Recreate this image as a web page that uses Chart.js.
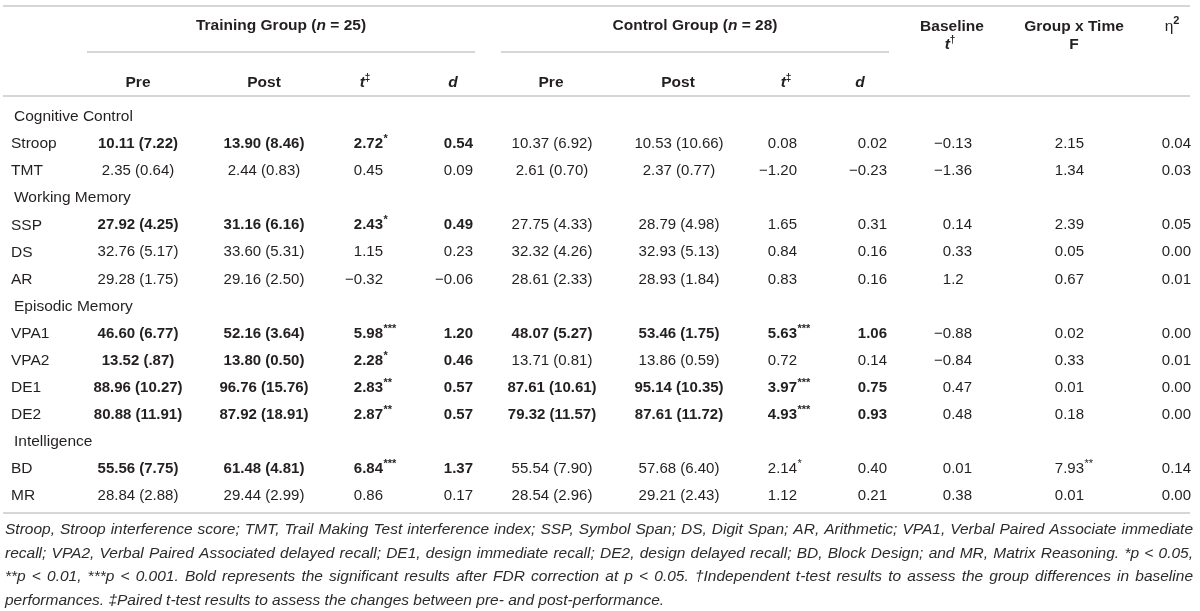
<!DOCTYPE html>
<html>
<head>
<meta charset="utf-8">
<script src="https://cdn.jsdelivr.net/npm/chart.js@4.4.1/dist/chart.umd.min.js"></script>
<style>
  html, body { margin: 0; padding: 0; background: #fff; }
  canvas { display: block; }
</style>
</head>
<body>
<canvas id="tabla" width="1200" height="611"></canvas>
<script>
// filas de la tabla (secciones + medidas)
var rows = ["Cognitive Control","Stroop","TMT","Working Memory","SSP","DS","AR",
            "Episodic Memory","VPA1","VPA2","DE1","DE2","Intelligence","BD","MR"];
var sections = ["Cognitive Control","Working Memory","Episodic Memory","Intelligence"];
var measures = ["Stroop","TMT","SSP","DS","AR","VPA1","VPA2","DE1","DE2","BD","MR"];

// valores M (SD), t, d ...
var trainPre  = ["10.11 (7.22)","2.35 (0.64)","27.92 (4.25)","32.76 (5.17)","29.28 (1.75)","46.60 (6.77)","13.52 (.87)","88.96 (10.27)","80.88 (11.91)","55.56 (7.75)","28.84 (2.88)"];
var trainPost = ["13.90 (8.46)","2.44 (0.83)","31.16 (6.16)","33.60 (5.31)","29.16 (2.50)","52.16 (3.64)","13.80 (0.50)","96.76 (15.76)","87.92 (18.91)","61.48 (4.81)","29.44 (2.99)"];
var trainT    = ["2.72*","0.45","2.43*","1.15","\u22120.32","5.98***","2.28*","2.83**","2.87**","6.84***","0.86"];
var trainD    = ["0.54","0.09","0.49","0.23","\u22120.06","1.20","0.46","0.57","0.57","1.37","0.17"];
var ctrlPre   = ["10.37 (6.92)","2.61 (0.70)","27.75 (4.33)","32.32 (4.26)","28.61 (2.33)","48.07 (5.27)","13.71 (0.81)","87.61 (10.61)","79.32 (11.57)","55.54 (7.90)","28.54 (2.96)"];
var ctrlPost  = ["10.53 (10.66)","2.37 (0.77)","28.79 (4.98)","32.93 (5.13)","28.93 (1.84)","53.46 (1.75)","13.86 (0.59)","95.14 (10.35)","87.61 (11.72)","57.68 (6.40)","29.21 (2.43)"];
var ctrlT     = ["0.08","\u22121.20","1.65","0.84","0.83","5.63***","0.72","3.97***","4.93***","2.14*","1.12"];
var ctrlD     = ["0.02","\u22120.23","0.31","0.16","0.16","1.06","0.14","0.75","0.93","0.40","0.21"];
var baseT     = ["\u22120.13","\u22121.36","0.14","0.33","1.2","\u22120.88","\u22120.84","0.47","0.48","0.01","0.38"];
var groupF    = ["2.15","1.34","2.39","0.05","0.67","0.02","0.33","0.01","0.18","7.93**","0.01"];
var eta2      = ["0.04","0.03","0.05","0.00","0.01","0.00","0.01","0.00","0.00","0.14","0.00"];
// negrita = significativo tras FDR
var trainBold = [1,0,1,0,0,1,1,1,1,1,0];
var ctrlBold  = [0,0,0,0,0,1,0,1,1,0,0];

var notas = [
  "Stroop, Stroop interference score; TMT, Trail Making Test interference index; SSP, Symbol Span; DS, Digit Span; AR, Arithmetic; VPA1, Verbal Paired Associate immediate",
  "recall; VPA2, Verbal Paired Associated delayed recall; DE1, design immediate recall; DE2, design delayed recall; BD, Block Design; and MR, Matrix Reasoning. *p < 0.05,",
  "**p < 0.01, ***p < 0.001. Bold represents the significant results after FDR correction at p < 0.05. \u2020Independent t-test results to assess the group differences in baseline",
  "performances. \u2021Paired t-test results to assess the changes between pre- and post-performance."
];

var FAM = '"Liberation Sans", Arial, sans-serif';
var TXT = '#231f20';
var LINEA = '#c9c9c9';
var TAM = 15.5;   // texto
var NUM = 15;     // cifras

// columnas: posicion de anclaje en x y tipo de alineacion
var cols = [
  {vals: trainPre,  bold: trainBold, x: 138, tipo: 'c'},
  {vals: trainPost, bold: trainBold, x: 264, tipo: 'c'},
  {vals: trainT,    bold: trainBold, x: 383, tipo: 'd'},
  {vals: trainD,    bold: trainBold, x: 473, tipo: 'd'},
  {vals: ctrlPre,   bold: ctrlBold,  x: 552, tipo: 'c'},
  {vals: ctrlPost,  bold: ctrlBold,  x: 679, tipo: 'c'},
  {vals: ctrlT,     bold: ctrlBold,  x: 797, tipo: 'd'},
  {vals: ctrlD,     bold: ctrlBold,  x: 887, tipo: 'd'},
  {vals: baseT,     bold: null,      x: 972, tipo: 'd'},
  {vals: groupF,    bold: null,      x: 1084, tipo: 'd'},
  {vals: eta2,      bold: null,      x: 1191, tipo: 'd'}
];

function fnt(size, weight, style) {
  return (style || 'normal') + ' ' + (weight || 'normal') + ' ' + size + 'px ' + FAM;
}

// dibuja trozos de texto con distintos estilos
function runs(ctx, partes, x, y, align) {
  var total = 0;
  partes.forEach(function(p){ ctx.font = p.f; p.w = ctx.measureText(p.t).width; total += p.w; });
  var cx = align === 'center' ? x - total/2 : (align === 'right' ? x - total : x);
  ctx.textAlign = 'left';
  partes.forEach(function(p){
    ctx.font = p.f;
    ctx.fillText(p.t, cx, y + (p.dy || 0));
    cx += p.w;
  });
}

function linea(ctx, x1, x2, y) {
  ctx.beginPath();
  ctx.moveTo(x1, y); ctx.lineTo(x2, y);
  ctx.stroke();
}

var tablaPlugin = {
  id: 'tabla',
  afterDraw: function(chart) {
    var ctx = chart.ctx;
    var ys = chart.scales.y;
    ctx.save();
    ctx.fillStyle = TXT;
    ctx.textBaseline = 'middle';

    // lineas
    ctx.strokeStyle = LINEA;
    ctx.lineWidth = 1.5;
    linea(ctx, 3, 1190, 6);
    linea(ctx, 87, 475, 52);
    linea(ctx, 501, 889, 52);
    linea(ctx, 3, 1190, 96);
    linea(ctx, 3, 1190, 513);

    // encabezados
    var B = fnt(TAM, 'bold'), BI = fnt(TAM, 'bold', 'italic'), SUP = fnt(10, 'bold');
    runs(ctx, [{t:'Training Group (', f:B}, {t:'n', f:BI}, {t:' = 25)', f:B}], 281, 26, 'center');
    runs(ctx, [{t:'Control Group (', f:B}, {t:'n', f:BI}, {t:' = 28)', f:B}], 695, 26, 'center');
    runs(ctx, [{t:'Baseline', f:B}], 952, 27, 'center');
    runs(ctx, [{t:'t', f:BI}, {t:'\u2020', f:SUP, dy:-5}], 950, 45, 'center');
    runs(ctx, [{t:'Group x Time', f:B}], 1074, 27, 'center');
    runs(ctx, [{t:'F', f:B}], 1074, 45, 'center');
    runs(ctx, [{t:'\u03b7', f:fnt(TAM)}, {t:'2', f:fnt(11, 'bold'), dy:-6}], 1172, 27, 'center');
    [[138,'Pre'],[264,'Post'],[551,'Pre'],[678,'Post']].forEach(function(h){
      runs(ctx, [{t:h[1], f:B}], h[0], 83, 'center');
    });
    [365, 786].forEach(function(x){
      runs(ctx, [{t:'t', f:BI}, {t:'\u2021', f:SUP, dy:-5}], x, 83, 'center');
    });
    runs(ctx, [{t:'d', f:BI}], 453, 83, 'center');
    runs(ctx, [{t:'d', f:BI}], 860, 83, 'center');

    // etiquetas de fila desde la escala y
    rows.forEach(function(r, i){
      var y = ys.getPixelForValue(i);
      var esSec = sections.indexOf(r) >= 0;
      ctx.font = fnt(TAM);
      ctx.textAlign = 'left';
      ctx.fillText(r, esSec ? 14 : 11, y);
    });

    // celdas: posicion de cada punto del dataset
    chart.data.datasets.forEach(function(ds, di){
      var meta = chart.getDatasetMeta(di);
      var col = cols[di];
      meta.data.forEach(function(el, j){
        var s = col.vals[j];
        var negrita = col.bold && col.bold[j];
        var f = fnt(NUM, negrita ? 'bold' : 'normal');
        if (col.tipo === 'c') {
          runs(ctx, [{t:s, f:f}], el.x, el.y, 'center');
        } else {
          var m = s.match(/^([^.]*)(\.\d+)(\**)$/);
          ctx.font = f;
          var ancla = el.x - ctx.measureText('.00').width;
          var wi = ctx.measureText(m[1]).width;
          var wf = ctx.measureText(m[2]).width;
          ctx.textAlign = 'left';
          ctx.fillText(m[1] + m[2], ancla - wi, el.y);
          if (m[3]) {
            ctx.font = fnt(11, negrita ? 'bold' : 'normal');
            ctx.fillText(m[3], ancla + wf + 0.5, el.y - 5);
          }
        }
      });
    });

    // nota al pie, justificada
    ctx.fillStyle = '#2b2b2b';
    ctx.font = fnt(15.5, 'normal', 'italic');
    ctx.textAlign = 'left';
    var x0 = 5, x1 = 1193;
    notas.forEach(function(l, k){
      var y = 530 + k * 23.4;
      var pal = l.split(' ');
      if (k === notas.length - 1) { ctx.fillText(l, x0, y); return; }
      var ws = pal.map(function(p){ return ctx.measureText(p).width; });
      var suma = ws.reduce(function(a, b){ return a + b; }, 0);
      var hueco = (x1 - x0 - suma) / (pal.length - 1);
      var cx = x0;
      pal.forEach(function(p, i){ ctx.fillText(p, cx, y); cx += ws[i] + hueco; });
    });
    ctx.restore();
  }
};

var datasets = cols.map(function(col, di){
  return {
    label: 'col' + di,
    data: measures.map(function(m){ return {x: col.x, y: m}; }),
    pointRadius: 0,
    showLine: false
  };
});

new Chart(document.getElementById('tabla'), {
  type: 'scatter',
  data: { datasets: datasets },
  options: {
    responsive: false,
    animation: false,
    events: [],
    layout: { padding: { top: 117, bottom: 115, left: 0, right: 0 } },
    scales: {
      x: { type: 'linear', min: 0, max: 1200, display: false },
      y: { type: 'category', labels: rows, offset: false, display: false }
    },
    plugins: { legend: { display: false }, tooltip: { enabled: false } }
  },
  plugins: [tablaPlugin]
});
</script>
</body>
</html>
